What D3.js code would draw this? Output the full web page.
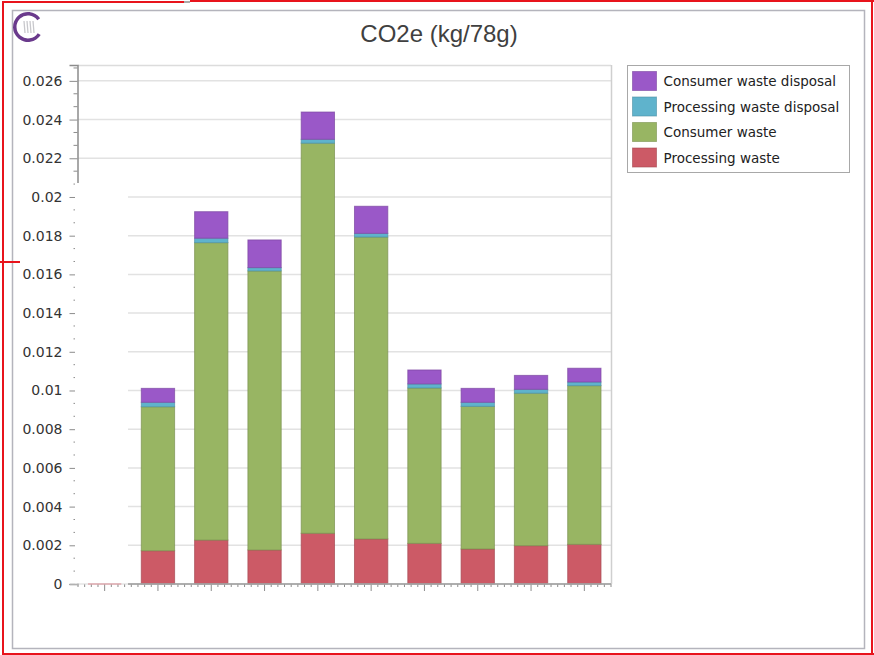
<!DOCTYPE html>
<html>
<head>
<meta charset="utf-8">
<script src="https://cdn.jsdelivr.net/npm/d3@7"></script>
<style>
  body { margin: 0; background: #fff; }
  svg { display: block; font-family: "DejaVu Sans", sans-serif; }
</style>
</head>
<body>
<svg width="874" height="655"></svg>
<script>
// chart data
const categories = ['1', '2', '3', '4', '5', '6', '7', '8', '9', '10'];
const processingWaste = [0, 0.00172, 0.00227, 0.00176, 0.00262, 0.00233, 0.00210, 0.00181, 0.00198, 0.00205];
const consumerWaste = [0, 0.00744, 0.01537, 0.01442, 0.02016, 0.01560, 0.00803, 0.00737, 0.00788, 0.00820];
const processingDisposal = [0, 0.00023, 0.00023, 0.00017, 0.00020, 0.00019, 0.00021, 0.00021, 0.00020, 0.00019];
const consumerDisposal = [0, 0.00072, 0.00137, 0.00143, 0.00141, 0.00140, 0.00072, 0.00072, 0.00072, 0.00071];
const yTicks = [0, 0.002, 0.004, 0.006, 0.008, 0.01, 0.012, 0.014, 0.016, 0.018, 0.02, 0.022, 0.024, 0.026];
const yMax = 0.02682;
const seriesNames = ['Processing waste', 'Consumer waste', 'Processing waste disposal', 'Consumer waste disposal'];
const seriesColors = ['#cc5a66', '#98b563', '#5fb3cc', '#9a58c8'];
const chartTitle = 'CO2e (kg/78g)';

const svg = d3.select('svg');

// outer frames
svg.append('rect')
    .attr('x', 12.5).attr('y', 10.5)
    .attr('width', 852).attr('height', 638)
    .attr('fill', 'none').attr('stroke', '#b4b4bc').attr('stroke-width', 1.5);

const red = svg.append('g').attr('stroke', '#e8141c').attr('stroke-width', 2).attr('fill', 'none');
red.append('path').attr('d', 'M3,2 H184 M190,1 H874 M3,1 V654 H874 M872,1 V654 M0,262 H20');
svg.append('line').attr('x1', 184).attr('x2', 190).attr('y1', 2).attr('y2', 2)
    .attr('stroke', '#aaa').attr('stroke-width', 2);

// logo
const logo = svg.append('g').attr('transform', 'translate(28,27)');
logo.append('path')
    .attr('d', d3.arc().innerRadius(11.5).outerRadius(15).startAngle(Math.PI * 0.68).endAngle(Math.PI * 2.3)())
    .attr('fill', '#6a3a8c');
[-4, -1, 2, 5].forEach(dx => {
    logo.append('line').attr('x1', dx).attr('x2', dx + 1).attr('y1', -6).attr('y2', 6)
        .attr('stroke', '#c8c8cc').attr('stroke-width', 1.3);
});

// title
svg.append('text')
    .attr('x', 439).attr('y', 42)
    .attr('text-anchor', 'middle')
    .attr('font-family', '"Liberation Sans", Arial, sans-serif')
    .attr('font-size', 24)
    .attr('fill', '#404040')
    .text(chartTitle);

// scales
const xScale = d3.scaleBand()
    .domain(categories)
    .range([78, 611])
    .paddingInner(0.375)
    .paddingOuter(0.1875);

const yScale = d3.scaleLinear()
    .domain([0, yMax])
    .range([584, 65]);

// grid
svg.append('g')
    .selectAll('line')
    .data(yTicks.filter(d => d > 0))
    .enter()
    .append('line')
    .attr('x1', 78).attr('x2', 611)
    .attr('y1', d => yScale(d)).attr('y2', d => yScale(d))
    .attr('stroke', '#e2e2e2').attr('stroke-width', 1.5);

svg.append('line').attr('x1', 78).attr('x2', 611).attr('y1', 65.5).attr('y2', 65.5)
    .attr('stroke', '#dcdcdc').attr('stroke-width', 1.5);
svg.append('line').attr('x1', 611.5).attr('x2', 611.5).attr('y1', 65).attr('y2', 584)
    .attr('stroke', '#cfcfcf').attr('stroke-width', 1.5);

// stacked bars
const rows = categories.map((c, i) => ({
    cat: c,
    s0: processingWaste[i], s1: consumerWaste[i], s2: processingDisposal[i], s3: consumerDisposal[i]
}));
const stack = d3.stack().keys(['s0', 's1', 's2', 's3'])(rows);

svg.append('g')
    .selectAll('g')
    .data(stack)
    .enter()
    .append('g')
    .attr('fill', (d, i) => seriesColors[i])
    .attr('stroke', (d, i) => d3.color(seriesColors[i]).darker(0.6))
    .attr('stroke-opacity', 0.7)
    .selectAll('rect')
    .data(d => d)
    .enter()
    .append('rect')
    .attr('x', d => xScale(d.data.cat))
    .attr('width', xScale.bandwidth())
    .attr('y', d => yScale(d[1]))
    .attr('height', d => yScale(d[0]) - yScale(d[1]));

// y axis
const yAxis = svg.append('g').attr('transform', 'translate(77.5,0)')
    .call(d3.axisLeft(yScale).tickValues(yTicks).tickSize(8).tickPadding(7)
        .tickFormat(d => d === 0 ? '0' : d3.format('')(+d.toFixed(3))));
yAxis.select('.domain').attr('stroke', '#8c8c8c').attr('stroke-width', 1.5);
yAxis.selectAll('.tick line').attr('stroke', '#8c8c8c');
yAxis.selectAll('.tick text').attr('font-size', 14).attr('fill', '#333')
    .attr('font-family', '"DejaVu Sans", sans-serif');

const yMinor = [];
for (let k = 0; k * 0.002 / 3 <= yMax + 1e-9; k++) {
    if (k % 3 !== 0) yMinor.push(k * 0.002 / 3);
}
svg.append('g')
    .selectAll('line')
    .data(yMinor)
    .enter()
    .append('line')
    .attr('x1', 73.5).attr('x2', 77.5)
    .attr('y1', d => yScale(d)).attr('y2', d => yScale(d))
    .attr('stroke', '#8c8c8c');

// x axis: major tick at every category, seven minor ticks in between
const step = xScale.step();
const xTicks = d3.range(0, categories.length * 8 + 1).map(j => ({ x: 78 + j * step / 8, major: j % 8 === 4 }));
svg.append('g')
    .selectAll('line')
    .data(xTicks)
    .enter()
    .append('line')
    .attr('x1', d => d.x).attr('x2', d => d.x)
    .attr('y1', 584).attr('y2', d => d.major ? 591 : 587)
    .attr('stroke', '#8c8c8c');

// the picture has a blank patch over the lower left of the plot
svg.append('rect')
    .attr('x', 75).attr('y', 183)
    .attr('width', 53).attr('height', 400.5)
    .attr('fill', '#fff');

svg.append('line').attr('x1', 70).attr('x2', 611).attr('y1', 584).attr('y2', 584)
    .attr('stroke', '#d8d8d8').attr('stroke-width', 1.2);
svg.append('line').attr('x1', 128).attr('x2', 611).attr('y1', 584).attr('y2', 584)
    .attr('stroke', '#9a9a9a').attr('stroke-width', 1.5);
svg.append('line')
    .attr('x1', xScale(categories[0])).attr('x2', xScale(categories[0]) + xScale.bandwidth())
    .attr('y1', 584).attr('y2', 584)
    .attr('stroke', '#d98a92').attr('stroke-width', 1.2);

// legend
const legend = svg.append('g').attr('transform', 'translate(627.5,65.5)');
legend.append('rect')
    .attr('width', 222).attr('height', 107)
    .attr('fill', '#fff').attr('stroke', '#a8a8a8');

const legendOrder = [3, 2, 1, 0];
const items = legend.selectAll('.item')
    .data(legendOrder)
    .enter()
    .append('g')
    .classed('item', true)
    .attr('transform', (d, i) => `translate(5,${6 + i * 25.5})`);
items.append('rect')
    .attr('width', 24).attr('height', 19)
    .attr('fill', d => seriesColors[d])
    .attr('stroke', d => d3.color(seriesColors[d]).darker(0.6))
    .attr('stroke-opacity', 0.6);
items.append('text')
    .attr('x', 31).attr('y', 14.5)
    .attr('font-size', 13.5)
    .attr('fill', '#222')
    .text(d => seriesNames[d]);
</script>
</body>
</html>
